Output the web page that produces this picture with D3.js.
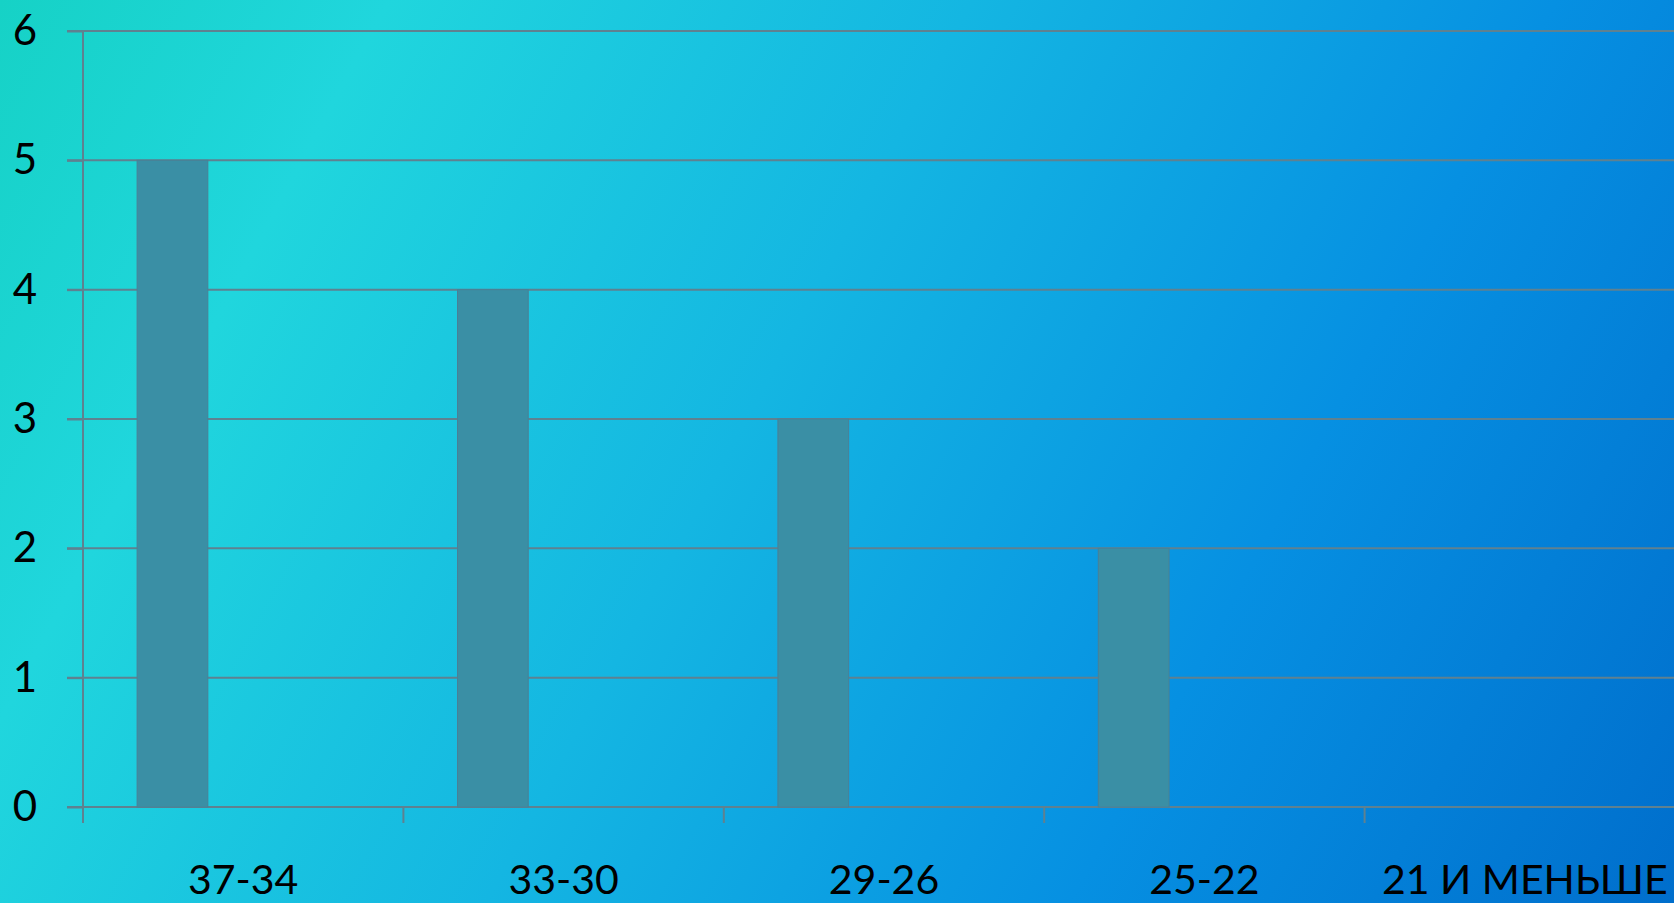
<!DOCTYPE html>
<html>
<head>
<meta charset="utf-8">
<script src="https://cdn.jsdelivr.net/npm/d3@7"></script>
<style>
  html, body { margin: 0; padding: 0; overflow: hidden; }
  svg { display: block; }
  text { font-family: Lato, "Open Sans", sans-serif; fill: #000; }
</style>
</head>
<body>
<svg id="chart" width="1674" height="903"></svg>
<script>
// Score ranges and number of results in each
const categories = ["37-34", "33-30", "29-26", "25-22", "21 И МЕНЬШЕ"];
const seriesNames = ["Ряд 1", "Ряд 2", "Ряд 3"];
const series1 = [5, 4, 3, 2, 0];
const yTicks = [0, 1, 2, 3, 4, 5, 6];

const W = 1674, H = 903;
const margin = { left: 83, top: 31, bottom: 96 };
const plotRight = 1685; // plot area runs slightly past the right edge

const svg = d3.select("#chart");

// Background gradient
const defs = svg.append("defs");
const grad = defs.append("linearGradient")
  .attr("id", "bg").attr("gradientUnits", "userSpaceOnUse")
  .attr("x1", 0).attr("y1", 0).attr("x2", W).attr("y2", H);
[[0, "#16d2c6"], [0.18, "#20d6dd"], [0.45, "#14b6e2"], [0.72, "#0690e2"], [1, "#006ecc"]]
  .forEach(([o, c]) => grad.append("stop").attr("offset", o).attr("stop-color", c));
svg.append("rect").attr("width", W).attr("height", H).attr("fill", "url(#bg)");

const x0 = d3.scaleBand().domain(categories).range([margin.left, plotRight]).padding(0);
// three series slots per category, only the first one carries values
const x1 = d3.scaleBand().domain(seriesNames).range([0, x0.bandwidth()])
  .paddingInner(0).paddingOuter(0.765);
const y = d3.scaleLinear().domain([0, 6]).range([H - margin.bottom, margin.top]);

const gridColor = "#5f8190";

// Horizontal gridlines
svg.append("g").selectAll("line").data(yTicks).join("line")
  .attr("x1", margin.left - 16).attr("x2", plotRight)
  .attr("y1", d => y(d)).attr("y2", d => y(d))
  .attr("stroke", gridColor).attr("stroke-width", 2);

// Bars
svg.append("g").selectAll("rect").data(series1.map((v, i) => ({ c: categories[i], v })))
  .join("rect")
  .attr("x", d => x0(d.c) + x1("Ряд 1"))
  .attr("y", d => y(d.v))
  .attr("width", x1.bandwidth())
  .attr("height", d => y(0) - y(d.v))
  .attr("fill", "#3a8fa5")
  .attr("stroke", "#4a8096").attr("stroke-width", 1);

// Y axis
const yAxis = svg.append("g").attr("transform", `translate(${margin.left},0)`)
  .call(d3.axisLeft(y).tickValues(yTicks).tickSize(16).tickPadding(30).tickFormat(d3.format("d")));
yAxis.select(".domain").attr("stroke", gridColor).attr("stroke-width", 2)
  .attr("d", `M0,${y(6)}V${y(0) + 16}`);
yAxis.selectAll(".tick line").attr("stroke", gridColor).attr("stroke-width", 2);
yAxis.selectAll("text").attr("font-size", 42).attr("fill", "#000")
  .attr("font-family", "Lato, 'Open Sans', sans-serif");

// X axis
const xAxis = svg.append("g").attr("transform", `translate(0,${y(0)})`)
  .call(d3.axisBottom(x0).tickSize(0).tickPadding(0));
xAxis.select(".domain").remove();
xAxis.selectAll(".tick line").remove();
xAxis.selectAll("text").attr("font-size", 41).attr("fill", "#000")
  .attr("font-family", "Lato, 'Open Sans', sans-serif")
  .attr("dy", null).attr("y", 87);

// Category separator ticks
svg.append("g").selectAll("line").data(categories).join("line")
  .attr("x1", d => x0(d)).attr("x2", d => x0(d))
  .attr("y1", y(0)).attr("y2", y(0) + 16)
  .attr("stroke", gridColor).attr("stroke-width", 2);
</script>
</body>
</html>
